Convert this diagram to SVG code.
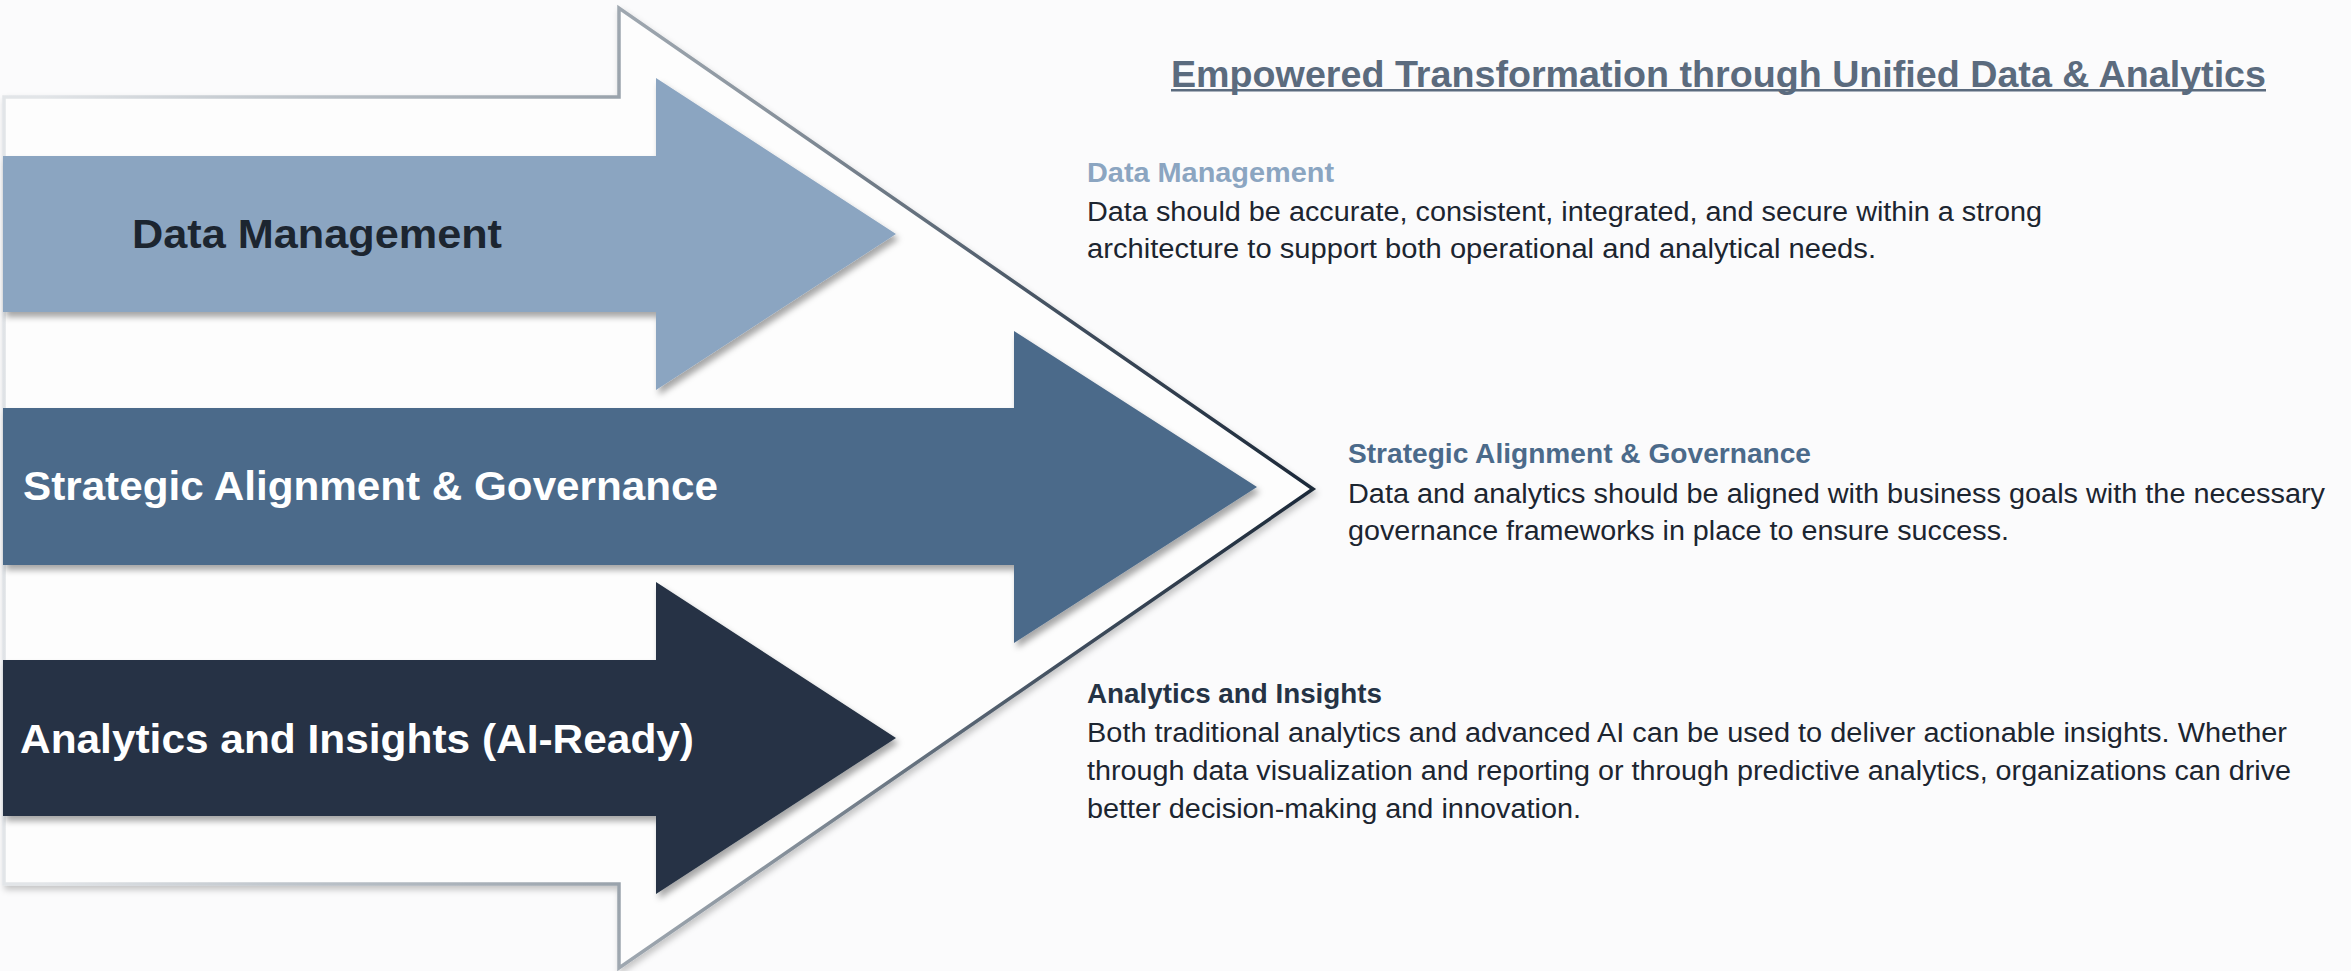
<svg xmlns="http://www.w3.org/2000/svg" width="2351" height="971" viewBox="0 0 2351 971">
  <defs>
    <radialGradient id="frameStroke" gradientUnits="userSpaceOnUse" cx="1313" cy="489" r="1330">
      <stop offset="0" stop-color="#1c2939"/>
      <stop offset="0.22" stop-color="#3f4d5d"/>
      <stop offset="0.5" stop-color="#8a949e"/>
      <stop offset="0.8" stop-color="#b9c0c7"/>
      <stop offset="1" stop-color="#e2e5e8"/>
    </radialGradient>
    <filter id="shadow" x="-5%" y="-5%" width="112%" height="115%">
      <feDropShadow dx="3" dy="5" stdDeviation="3" flood-color="#000000" flood-opacity="0.35"/>
    </filter>
    <filter id="frameShadow" x="-5%" y="-5%" width="112%" height="115%">
      <feDropShadow dx="2" dy="4" stdDeviation="3" flood-color="#000000" flood-opacity="0.22"/>
    </filter>
  </defs>
  <style>
    .lbl { font-family: "Liberation Sans", Arial, sans-serif; font-weight: bold; font-size: 41px; }
    .head { font-family: "Liberation Sans", Arial, sans-serif; font-weight: bold; font-size: 28px; }
    .body { font-family: "Liberation Sans", Arial, sans-serif; font-size: 27px; fill: #1c2530; }
    .title { font-family: "Liberation Sans", Arial, sans-serif; font-weight: bold; font-size: 36px; fill: #5b6b7e; }
  </style>
  <rect x="0" y="0" width="2351" height="971" fill="#fbfbfc"/>

  <g id="frame">
    <polygon points="4,97 619,97 619,8 1313,489 619,968 619,884 4,884" fill="#fdfdfd" stroke="url(#frameStroke)" stroke-width="3.5" stroke-linejoin="miter" filter="url(#frameShadow)"/>
  </g>

  <g id="connectors"></g>

  <g id="node-data-management">
    <polygon points="3,156 656,156 656,78 896,234 656,390 656,312 3,312" fill="#8ba5c1" filter="url(#shadow)"/>
    <text class="lbl" x="132" y="248" fill="#1c2530" textLength="370" lengthAdjust="spacingAndGlyphs">Data Management</text>
  </g>

  <g id="node-strategic-alignment">
    <polygon points="3,408 1014,408 1014,331 1257,487 1014,643 1014,565 3,565" fill="#4b6a8a" filter="url(#shadow)"/>
    <text class="lbl" x="23" y="500" fill="#ffffff" textLength="695" lengthAdjust="spacingAndGlyphs">Strategic Alignment &amp; Governance</text>
  </g>

  <g id="node-analytics-insights">
    <polygon points="3,660 656,660 656,582 896,738 656,894 656,816 3,816" fill="#253345" filter="url(#shadow)"/>
    <text class="lbl" x="20" y="753" fill="#ffffff" textLength="674" lengthAdjust="spacingAndGlyphs">Analytics and Insights (AI-Ready)</text>
  </g>

  <g id="title">
    <text class="title" x="1171" y="87" textLength="1095" lengthAdjust="spacingAndGlyphs">Empowered Transformation through Unified Data &amp; Analytics</text>
    <rect x="1171" y="89" width="1095" height="2.5" fill="#5b6b7e"/>
  </g>

  <g id="desc-data-management">
    <text class="head" x="1087" y="182" fill="#8ba5c1" textLength="247" lengthAdjust="spacingAndGlyphs">Data Management</text>
    <text class="body" x="1087" y="221" textLength="955" lengthAdjust="spacingAndGlyphs">Data should be accurate, consistent, integrated, and secure within a strong</text>
    <text class="body" x="1087" y="258" textLength="789" lengthAdjust="spacingAndGlyphs">architecture to support both operational and analytical needs.</text>
  </g>

  <g id="desc-strategic-alignment">
    <text class="head" x="1348" y="463" fill="#4b6a8a" textLength="463" lengthAdjust="spacingAndGlyphs">Strategic Alignment &amp; Governance</text>
    <text class="body" x="1348" y="503" textLength="977" lengthAdjust="spacingAndGlyphs">Data and analytics should be aligned with business goals with the necessary</text>
    <text class="body" x="1348" y="540" textLength="661" lengthAdjust="spacingAndGlyphs">governance frameworks in place to ensure success.</text>
  </g>

  <g id="desc-analytics-insights">
    <text class="head" x="1087" y="703" fill="#253345" textLength="295" lengthAdjust="spacingAndGlyphs">Analytics and Insights</text>
    <text class="body" x="1087" y="742" textLength="1200" lengthAdjust="spacingAndGlyphs">Both traditional analytics and advanced AI can be used to deliver actionable insights. Whether</text>
    <text class="body" x="1087" y="780" textLength="1204" lengthAdjust="spacingAndGlyphs">through data visualization and reporting or through predictive analytics, organizations can drive</text>
    <text class="body" x="1087" y="818" textLength="494" lengthAdjust="spacingAndGlyphs">better decision-making and innovation.</text>
  </g>
</svg>
